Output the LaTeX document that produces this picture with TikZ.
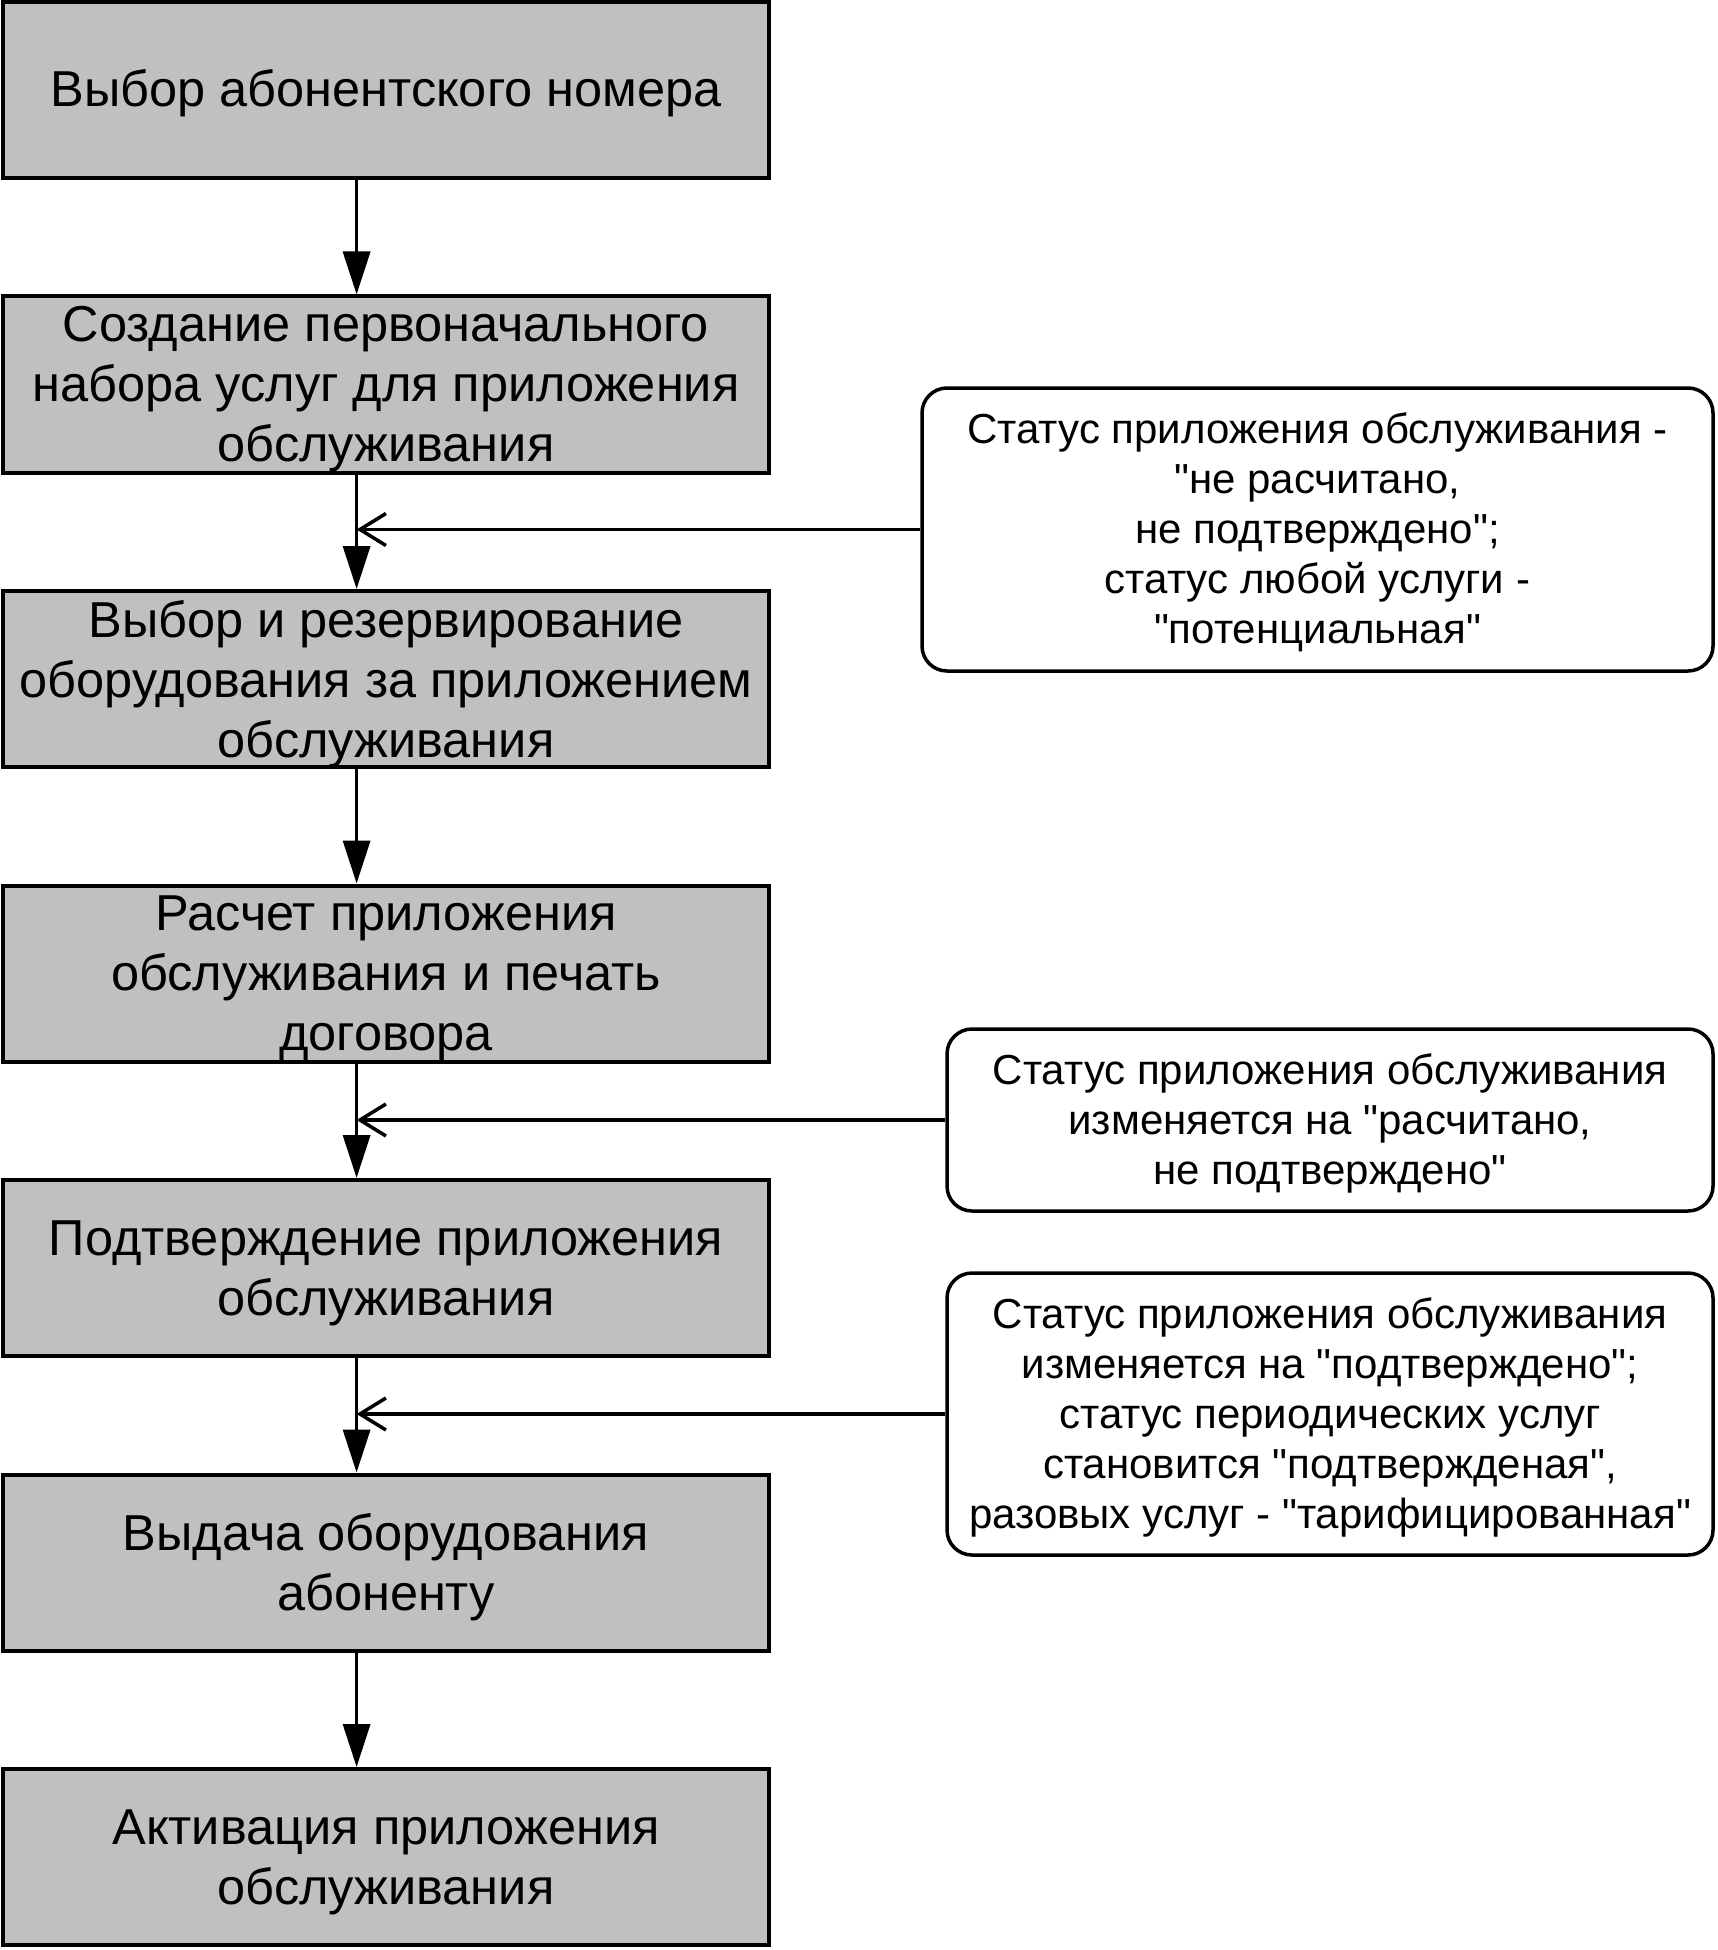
\documentclass[tikz,border=0pt]{standalone}
\usepackage{fontspec}
\setmainfont{Liberation Sans}[Ligatures=TeXOff]
\usetikzlibrary{arrows.meta}
\begin{document}
\begin{tikzpicture}[x=1pt,y=-1pt,
  stepbox/.style={draw=black, line width=4pt, fill={rgb,255:red,192;green,192;blue,192},
    minimum width=766pt, minimum height=176pt, inner sep=0pt},
  steptext/.style={inner sep=0pt, align=center, yshift=-5pt,
    font=\fontsize{50.5}{60}\selectfont},
  notebox/.style={draw=black, line width=3.5pt, fill=white, rounded corners=25pt,
    inner sep=0pt},
  notetext/.style={inner sep=0pt, align=center, yshift=-3pt,
    font=\fontsize{42}{50}\selectfont},
  flow/.style={line width=3.5pt, -{Triangle[length=43pt,width=27pt]}},
  side/.style={line width=3.5pt, -{Straight Barb[length=26pt,width=32pt,line width=3.5pt]}}]
\useasboundingbox (0,0) rectangle (1717,1950);
\coordinate (ax) at (356.6,0);
\node[stepbox] (b1) at (386,90) {};
\node[stepbox] (b2) at (386,384.5) {};
\node[stepbox] (b3) at (386,679) {};
\node[stepbox] (b4) at (386,973.5) {};
\node[stepbox] (b5) at (386,1268) {};
\node[stepbox] (b6) at (386,1562.5) {};
\node[stepbox] (b7) at (386,1857) {};
\node[steptext] (t1) at (b1.center) {\strut Выбор абонентского номера};
\node[steptext] (t2) at (b2.center) {Создание первоначального\\набора услуг для приложения\\обслуживания};
\node[steptext] (t3) at (b3.center) {Выбор и резервирование\\оборудования за приложением\\обслуживания};
\node[steptext] (t4) at (b4.center) {Расчет приложения\\обслуживания и печать\\договора};
\node[steptext] (t5) at (b5.center) {Подтверждение приложения\\обслуживания};
\node[steptext] (t6) at (b6.center) {Выдача оборудования\\абоненту};
\node[steptext] (t7) at (b7.center) {Активация приложения\\обслуживания};
\node[notebox, minimum width=791pt, minimum height=283pt] (n1) at (1317.5,529.5) {};
\node[notebox, minimum width=766pt, minimum height=182pt] (n2) at (1330,1120) {};
\node[notebox, minimum width=766pt, minimum height=282pt] (n3) at (1330,1414) {};
\node[notetext] (m1) at (n1.center)
  {Статус приложения обслуживания -\\"не расчитано,\\не подтверждено";\\статус любой услуги -\\"потенциальная"};
\node[notetext] (m2) at (n2.center)
  {Статус приложения обслуживания\\изменяется на "расчитано,\\не подтверждено"};
\node[notetext] (m3) at (n3.center)
  {Статус приложения обслуживания\\изменяется на "подтверждено";\\статус периодических услуг\\становится "подтвержденая",\\разовых услуг - "тарифицированная"};
\foreach \a/\b in {b1/b2,b2/b3,b3/b4,b4/b5,b5/b6,b6/b7}
  \draw[flow] (\a.south -| ax) -- (\b.north -| ax);
\foreach \n in {n1,n2,n3}
  \draw[side] (\n.west) -- (\n.west -| ax);
\end{tikzpicture}
\end{document}
